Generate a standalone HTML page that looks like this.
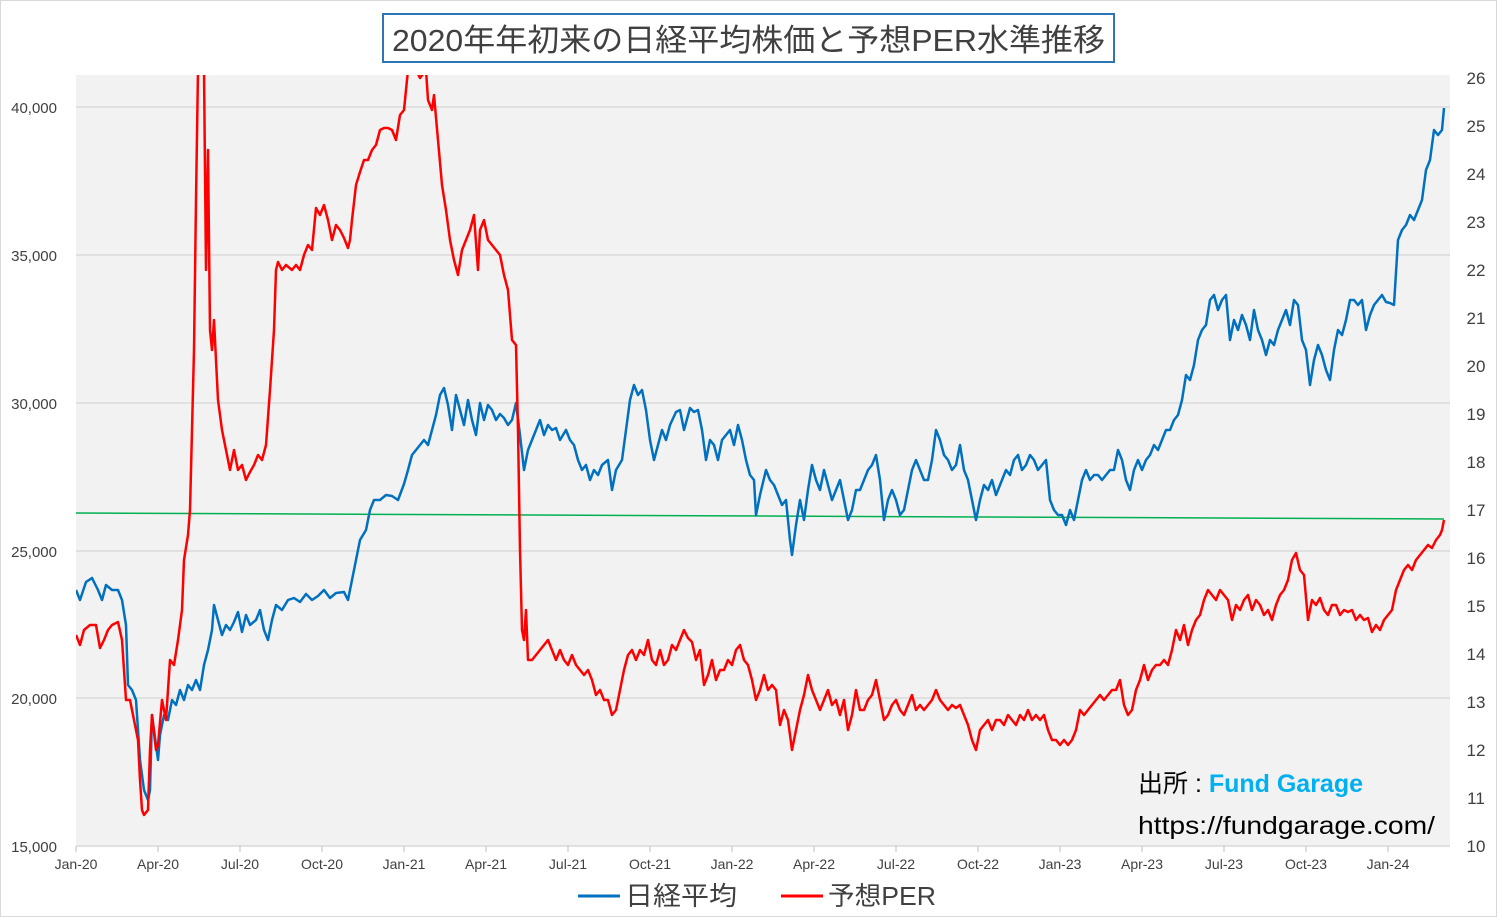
<!DOCTYPE html>
<html><head><meta charset="utf-8"><style>
html,body{margin:0;padding:0;background:#fff}
svg{display:block}
text{font-family:"Liberation Sans","Noto Sans CJK JP",sans-serif}
</style></head><body>
<svg width="1497" height="917" viewBox="0 0 1497 917" xmlns="http://www.w3.org/2000/svg">
<rect x="0.5" y="0.5" width="1496" height="916" fill="#fff" stroke="#d9d9d9"/>
<defs><clipPath id="c"><rect x="76" y="75" width="1380" height="772"/></clipPath></defs>
<rect x="76" y="75" width="1374" height="771" fill="#f2f2f2"/>
<g stroke="#d9d9d9" stroke-width="1.5">
<line x1="76" y1="107" x2="1450" y2="107"/><line x1="76" y1="255" x2="1450" y2="255"/>
<line x1="76" y1="403" x2="1450" y2="403"/><line x1="76" y1="551" x2="1450" y2="551"/>
<line x1="76" y1="698" x2="1450" y2="698"/><line x1="76" y1="846" x2="1450" y2="846"/>
</g>
<g stroke="#bfbfbf" stroke-width="1">
<line x1="76" y1="846" x2="76" y2="852"/><line x1="158" y1="846" x2="158" y2="852"/><line x1="240" y1="846" x2="240" y2="852"/><line x1="322" y1="846" x2="322" y2="852"/><line x1="404" y1="846" x2="404" y2="852"/><line x1="486" y1="846" x2="486" y2="852"/><line x1="568" y1="846" x2="568" y2="852"/><line x1="650" y1="846" x2="650" y2="852"/><line x1="732" y1="846" x2="732" y2="852"/><line x1="814" y1="846" x2="814" y2="852"/><line x1="896" y1="846" x2="896" y2="852"/><line x1="978" y1="846" x2="978" y2="852"/><line x1="1060" y1="846" x2="1060" y2="852"/><line x1="1142" y1="846" x2="1142" y2="852"/><line x1="1224" y1="846" x2="1224" y2="852"/><line x1="1306" y1="846" x2="1306" y2="852"/><line x1="1388" y1="846" x2="1388" y2="852"/>
</g>
<g font-size="15" fill="#404040" text-anchor="end">
<text x="57" y="113">40,000</text><text x="57" y="261">35,000</text><text x="57" y="409">30,000</text><text x="57" y="557">25,000</text><text x="57" y="704">20,000</text><text x="57" y="852">15,000</text>
</g>
<g font-size="17" fill="#404040" text-anchor="middle">
<text x="1476" y="84">26</text><text x="1476" y="132">25</text><text x="1476" y="180">24</text><text x="1476" y="228">23</text><text x="1476" y="276">22</text><text x="1476" y="324">21</text><text x="1476" y="372">20</text><text x="1476" y="420">19</text><text x="1476" y="468">18</text><text x="1476" y="516">17</text><text x="1476" y="564">16</text><text x="1476" y="612">15</text><text x="1476" y="660">14</text><text x="1476" y="708">13</text><text x="1476" y="756">12</text><text x="1476" y="804">11</text><text x="1476" y="852">10</text>
</g>
<g font-size="14" fill="#404040" text-anchor="middle">
<text x="76" y="869">Jan-20</text><text x="158" y="869">Apr-20</text><text x="240" y="869">Jul-20</text><text x="322" y="869">Oct-20</text><text x="404" y="869">Jan-21</text><text x="486" y="869">Apr-21</text><text x="568" y="869">Jul-21</text><text x="650" y="869">Oct-21</text><text x="732" y="869">Jan-22</text><text x="814" y="869">Apr-22</text><text x="896" y="869">Jul-22</text><text x="978" y="869">Oct-22</text><text x="1060" y="869">Jan-23</text><text x="1142" y="869">Apr-23</text><text x="1224" y="869">Jul-23</text><text x="1306" y="869">Oct-23</text><text x="1388" y="869">Jan-24</text>
</g>
<g clip-path="url(#c)" fill="none" stroke-linejoin="round">
<line x1="76" y1="513" x2="1444" y2="519" stroke="#00b050" stroke-width="1.5"/>
<polyline stroke="#0070c0" stroke-width="2.5" points="76,590 80,600 86,582 92,578 98,590 102,600 106,585 112,590 118,590 122,600 126,625 128,685 132,690 136,700 140,760 144,790 148,800 150,790 152,715 156,745 158,760 160,735 164,715 168,720 172,700 176,705 180,690 184,700 188,685 192,690 196,680 200,690 204,665 208,650 212,630 214,605 218,620 222,635 226,625 230,630 234,622 238,612 242,632 246,615 250,625 256,620 260,610 264,630 268,640 272,620 276,605 282,610 288,600 294,598 300,602 306,594 312,600 318,596 324,590 330,598 336,593 344,592 348,600 352,580 356,560 360,540 366,530 370,510 374,500 380,500 386,495 392,496 398,500 404,484 408,470 412,455 416,450 420,445 424,440 428,445 432,430 436,415 440,395 444,388 448,405 452,430 456,395 460,410 464,425 468,400 472,420 476,435 480,403 484,420 488,405 492,410 496,420 500,414 504,418 508,425 512,420 516,403 520,435 524,470 528,450 532,440 536,430 540,420 544,435 548,425 552,430 556,428 560,440 566,430 570,440 574,445 578,460 582,470 586,465 590,480 594,470 598,475 602,465 608,460 612,490 616,470 622,460 626,430 630,400 634,385 638,395 642,390 646,410 650,440 654,460 658,445 662,430 666,440 670,425 676,412 680,410 684,430 690,408 694,412 698,410 702,430 706,460 710,440 714,445 718,460 722,440 726,435 730,430 734,445 738,425 742,440 746,460 750,475 754,480 756,515 760,495 766,470 770,480 774,485 778,495 782,505 786,500 790,540 792,555 796,525 800,500 804,520 808,490 812,465 816,480 820,490 824,470 828,485 832,500 836,490 840,480 844,500 848,520 852,510 856,490 860,490 864,480 868,470 872,465 876,455 880,480 884,520 888,500 892,490 896,500 900,515 904,510 908,490 912,470 916,460 920,470 924,480 928,480 932,460 936,430 940,440 944,455 948,460 952,470 956,465 960,445 964,470 968,480 972,500 976,520 980,500 984,485 988,490 992,480 996,495 1000,485 1006,470 1010,475 1014,460 1018,455 1022,470 1026,465 1030,455 1034,460 1038,470 1042,465 1046,460 1050,500 1054,510 1058,515 1062,515 1066,525 1070,510 1074,520 1078,500 1082,480 1086,470 1090,480 1094,475 1098,475 1102,480 1106,475 1110,470 1114,470 1118,450 1122,460 1126,480 1130,490 1134,470 1138,460 1142,470 1146,460 1150,455 1154,445 1158,450 1162,440 1166,430 1170,430 1174,420 1178,415 1182,400 1186,375 1190,380 1194,365 1198,340 1202,330 1206,325 1210,300 1214,295 1218,310 1222,300 1226,295 1230,340 1234,320 1238,330 1242,315 1246,325 1250,340 1254,310 1258,330 1262,340 1266,355 1270,340 1274,345 1278,330 1282,320 1286,310 1290,325 1294,300 1298,305 1302,340 1306,350 1310,385 1314,360 1318,345 1322,355 1326,370 1330,380 1334,350 1338,330 1342,335 1346,320 1350,300 1354,300 1358,305 1362,300 1366,330 1370,315 1374,305 1378,300 1382,295 1386,302 1390,303 1394,305 1398,240 1402,230 1406,225 1410,215 1414,220 1418,210 1422,200 1426,170 1430,160 1434,130 1438,135 1442,130 1444,108"/>
<polyline stroke="#ff0000" stroke-width="2.5" points="76,635 80,645 84,630 90,625 96,625 100,648 104,640 108,630 112,625 118,622 122,640 126,700 130,700 134,720 138,740 140,780 142,810 144,815 148,810 150,750 152,715 156,750 158,745 162,700 166,720 170,660 174,665 178,640 182,610 184,560 188,535 190,510 192,430 194,350 196,200 198,70 200,70 204,70 206,270 208,150 210,330 212,350 214,320 218,400 222,430 226,450 230,470 234,450 238,470 242,465 246,480 250,472 254,465 258,455 262,460 266,445 270,390 274,330 276,270 278,262 282,270 286,265 292,270 296,265 300,270 304,255 308,245 312,250 316,208 320,215 324,205 328,220 332,240 336,225 340,230 344,238 348,248 350,240 352,220 356,185 360,172 364,160 368,160 372,150 376,145 380,130 384,128 388,128 392,130 396,140 400,115 404,110 408,70 412,70 416,70 420,78 426,70 428,100 432,110 434,95 438,140 442,185 446,210 450,240 454,260 458,275 462,250 466,240 470,230 474,215 478,270 480,230 484,220 488,240 492,245 496,250 500,255 504,275 508,290 512,340 516,345 518,430 520,550 522,630 524,640 526,610 528,660 532,660 536,655 540,650 544,645 548,640 552,650 556,660 560,650 564,660 568,665 572,655 576,665 580,670 584,675 588,670 592,680 596,695 600,690 604,700 608,700 612,715 616,710 620,690 624,670 628,655 632,650 636,660 640,650 644,655 648,640 652,660 656,665 660,650 664,665 668,660 672,645 676,650 680,640 684,630 688,638 692,642 696,660 700,650 704,685 708,675 712,660 716,680 720,670 724,670 728,660 732,665 736,650 740,645 744,660 748,665 752,680 756,700 760,690 764,675 768,690 772,685 776,690 780,725 784,710 788,720 792,750 796,730 800,710 804,695 808,675 812,690 816,700 820,710 824,700 828,690 832,705 836,700 840,715 844,700 848,730 852,715 856,690 860,710 864,710 868,700 872,695 876,680 880,700 884,720 888,715 892,705 896,700 900,710 904,715 908,705 912,695 916,710 920,705 924,710 928,705 932,700 936,690 940,700 944,705 948,710 952,705 956,708 960,705 964,715 968,725 972,740 976,750 980,730 984,725 988,720 992,730 996,720 1000,720 1004,725 1008,715 1012,720 1016,725 1020,715 1024,720 1028,710 1032,720 1036,715 1040,720 1044,715 1048,730 1052,740 1056,740 1060,745 1064,740 1068,745 1072,740 1076,730 1080,710 1084,715 1088,710 1092,705 1096,700 1100,695 1104,700 1108,695 1112,690 1116,690 1120,680 1124,705 1128,715 1132,710 1136,690 1140,680 1144,665 1148,680 1152,670 1156,665 1160,665 1164,660 1168,665 1172,650 1176,630 1180,640 1184,625 1188,645 1192,630 1196,620 1200,615 1204,600 1208,590 1212,595 1216,600 1220,590 1224,595 1228,600 1232,620 1236,605 1240,610 1244,600 1248,595 1252,610 1256,600 1260,605 1264,615 1268,610 1272,620 1276,605 1280,595 1284,590 1288,580 1292,560 1296,553 1300,570 1304,575 1308,620 1312,600 1316,605 1320,598 1324,610 1328,615 1332,605 1336,605 1340,615 1344,610 1348,612 1352,610 1356,620 1360,615 1364,620 1368,618 1372,632 1376,625 1380,630 1384,620 1388,615 1392,610 1396,590 1400,580 1404,570 1408,565 1412,570 1416,560 1420,555 1424,550 1428,545 1432,548 1436,540 1440,535 1442,530 1444,520"/>
</g>
<rect x="383" y="14" width="731" height="48" fill="#fff" stroke="#2e75b6" stroke-width="2"/>
<text x="392" y="51" font-size="31" fill="#404040" textLength="713" lengthAdjust="spacingAndGlyphs">2020年年初来の日経平均株価と予想PER水準推移</text>
<text x="1138" y="792" font-size="25" fill="#000" textLength="225" lengthAdjust="spacingAndGlyphs">出所 : <tspan fill="#00b0f0" font-weight="bold">Fund Garage</tspan></text>
<text x="1138" y="834" font-size="25" fill="#000" textLength="297" lengthAdjust="spacingAndGlyphs">https://fundgarage.com/</text>
<line x1="578" y1="896" x2="620" y2="896" stroke="#0070c0" stroke-width="3"/>
<text x="625" y="905" font-size="26" fill="#404040" textLength="112" lengthAdjust="spacingAndGlyphs">日経平均</text>
<line x1="781" y1="896" x2="823" y2="896" stroke="#ff0000" stroke-width="3"/>
<text x="828" y="905" font-size="26" fill="#404040" textLength="108" lengthAdjust="spacingAndGlyphs">予想PER</text>
</svg>
</body></html>
